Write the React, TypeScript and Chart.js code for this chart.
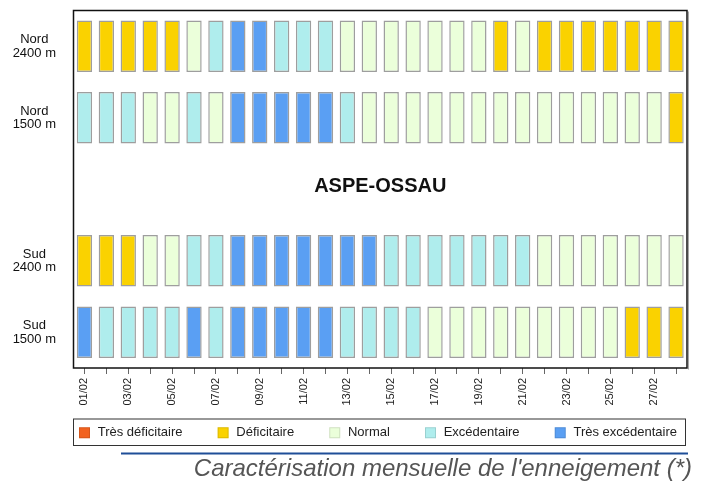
import React, { useEffect, useRef } from "react";
import { Chart, registerables } from "chart.js";

Chart.register(...registerables);

// ---- data ----
const days = [
  "01/02", "02/02", "03/02", "04/02", "05/02", "06/02", "07/02", "08/02", "09/02", "10/02",
  "11/02", "12/02", "13/02", "14/02", "15/02", "16/02", "17/02", "18/02", "19/02", "20/02",
  "21/02", "22/02", "23/02", "24/02", "25/02", "26/02", "27/02", "28/02",
];

// categories: TD = Très déficitaire, D = Déficitaire, N = Normal, E = Excédentaire, TE = Très excédentaire
const categoryKeys = ["TD", "D", "N", "E", "TE"];
const categoryNames = ["Très déficitaire", "Déficitaire", "Normal", "Excédentaire", "Très excédentaire"];
const categoryColors = ["#F2621F", "#FAD200", "#EBFFDA", "#AFEDED", "#5A9FF3"];

const rowLabels = [["Nord", "2400 m"], ["Nord", "1500 m"], ["Sud", "2400 m"], ["Sud", "1500 m"]];

const nord2400 = ["D","D","D","D","D","N","E","TE","TE","E","E","E","N","N","N","N","N","N","N","D","N","D","D","D","D","D","D","D"];
const nord1500 = ["E","E","E","N","N","E","N","TE","TE","TE","TE","TE","E","N","N","N","N","N","N","N","N","N","N","N","N","N","N","D"];
const sud2400 = ["D","D","D","N","N","E","E","TE","TE","TE","TE","TE","TE","TE","E","E","E","E","E","E","E","N","N","N","N","N","N","N"];
const sud1500 = ["TE","E","E","E","E","TE","E","TE","TE","TE","TE","TE","E","E","E","E","N","N","N","N","N","N","N","N","N","D","D","D"];

const massifName = "ASPE-OSSAU";
const subtitleText = "Caractérisation mensuelle de l'enneigement (*)";

// slot of each row on the value axis (top to bottom); slot 2 holds the massif name
const rowSeries = [nord2400, nord1500, sud2400, sud1500];
const rowSlots = [4, 3, 1, 0];
const titleSlot = 2;

const FONT = "'Liberation Sans', Arial, Helvetica, sans-serif";
const CELL = 0.717;

function colorOf(code: string) {
  return categoryColors[categoryKeys.indexOf(code)];
}

const decorPlugin = {
  id: "decor",
  afterDraw(chart: any) {
    const { ctx, chartArea } = chart;
    const y = chart.scales.y;
    ctx.save();
    // plot frame
    ctx.strokeStyle = "#111";
    ctx.lineWidth = 1.5;
    ctx.strokeRect(chartArea.left, chartArea.top, chartArea.right - chartArea.left, chartArea.bottom - chartArea.top);
    ctx.strokeStyle = "rgba(0,0,0,0.35)";
    ctx.lineWidth = 1;
    ctx.beginPath();
    ctx.moveTo(chartArea.right + 1.5, chartArea.top + 1);
    ctx.lineTo(chartArea.right + 1.5, chartArea.bottom + 1.5);
    ctx.stroke();

    // massif name
    ctx.fillStyle = "#111";
    ctx.font = `bold 20px ${FONT}`;
    ctx.textAlign = "center";
    ctx.textBaseline = "middle";
    ctx.fillText(massifName, (chartArea.left + chartArea.right) / 2, y.getPixelForValue(titleSlot + 0.5) - 3);

    // legend box
    const boxL = chartArea.left;
    const boxR = 685.5;
    const boxT = 419;
    const boxB = 445.5;
    ctx.strokeStyle = "#333";
    ctx.lineWidth = 1;
    ctx.strokeRect(boxL, boxT, boxR - boxL, boxB - boxT);
    ctx.font = `13px ${FONT}`;
    ctx.textAlign = "left";
    const sw = 11;
    const gapText = 7.7;
    const widths = categoryNames.map((n) => sw + gapText + ctx.measureText(n).width);
    const innerL = boxL + 5.5;
    const innerR = boxR - 8.5;
    const total = widths.reduce((a, b) => a + b, 0);
    const gap = (innerR - innerL - total) / (categoryNames.length - 1);
    let x = innerL;
    const cy = (boxT + boxB) / 2 + 0.5;
    categoryNames.forEach((name, i) => {
      ctx.fillStyle = categoryColors[i];
      ctx.fillRect(x, cy - 5.5, sw, sw);
      ctx.strokeStyle = "rgba(0,0,0,0.12)";
      ctx.strokeRect(x + 0.5, cy - 5, sw - 1, sw - 1);
      ctx.fillStyle = "#222";
      ctx.fillText(name, x + sw + gapText, cy);
      x += widths[i] + gap;
    });

    // blue rule
    ctx.strokeStyle = "#1F4E98";
    ctx.lineWidth = 2.2;
    ctx.beginPath();
    ctx.moveTo(121, 453.5);
    ctx.lineTo(688, 453.5);
    ctx.stroke();

    // subtitle
    ctx.fillStyle = "#555";
    ctx.font = `italic 24px ${FONT}`;
    ctx.textAlign = "right";
    ctx.textBaseline = "alphabetic";
    ctx.fillText(subtitleText, 692, 476);
    ctx.restore();
  },
};

export default function App() {
  const ref = useRef<HTMLCanvasElement>(null);

  useEffect(() => {
    if (!ref.current) return;
    const datasets = rowSeries.map((codes, r) => ({
      label: rowLabels[r].join(" "),
      data: codes.map(() => [rowSlots[r] + (1 - CELL) / 2, rowSlots[r] + (1 + CELL) / 2]),
      backgroundColor: codes.map(colorOf),
      borderColor: "rgba(0,0,0,0.38)",
      borderWidth: 1.5,
      borderSkipped: false,
      grouped: false,
      barPercentage: 0.7,
      categoryPercentage: 1,
    }));

    const chart = new Chart(ref.current, {
      type: "bar",
      data: { labels: days, datasets: datasets as any },
      options: {
        animation: false,
        responsive: false,
        devicePixelRatio: 1,
        layout: { padding: { left: 0, right: 17, top: 10.5, bottom: 79 } },
        plugins: {
          legend: { display: false },
          tooltip: { enabled: false },
        },
        scales: {
          x: {
            type: "category",
            offset: true,
            grid: {
              display: true,
              drawOnChartArea: false,
              drawTicks: true,
              tickLength: 6,
              offset: false,
              color: "#666",
              lineWidth: 1,
            },
            border: { display: false },
            ticks: {
              autoSkip: false,
              maxRotation: 90,
              minRotation: 90,
              padding: 4,
              color: "#222",
              font: { family: FONT, size: 11 },
              callback: (_v: any, i: number) => (i % 2 === 0 ? days[i] : ""),
            },
            afterFit: (s: any) => {
              s.height = 40;
              s.paddingLeft = 0;
              s.paddingRight = 0;
            },
          },
          y: {
            type: "linear",
            min: 0,
            max: 5,
            grid: { display: false },
            border: { display: false },
            afterBuildTicks: (s: any) => {
              s.ticks = rowSlots.map((v) => ({ value: v + 0.5 }));
            },
            ticks: {
              padding: 9.5,
              crossAlign: "center",
              color: "#111",
              font: { family: FONT, size: 13, lineHeight: 1.05 },
              callback: (v: any) => {
                const idx = rowSlots.indexOf(Math.round(Number(v) - 0.5));
                return idx >= 0 ? rowLabels[idx] : "";
              },
            },
            afterFit: (s: any) => {
              s.width = 73.5;
              s.paddingTop = 0;
              s.paddingBottom = 0;
            },
          },
        },
      } as any,
      plugins: [decorPlugin],
    });
    return () => chart.destroy();
  }, []);

  return (
    <div style={{ position: "absolute", left: 0, top: 0, width: 704, height: 487, background: "#fff" }}>
      <canvas ref={ref} width={704} height={487} style={{ display: "block" }} />
    </div>
  );
}
